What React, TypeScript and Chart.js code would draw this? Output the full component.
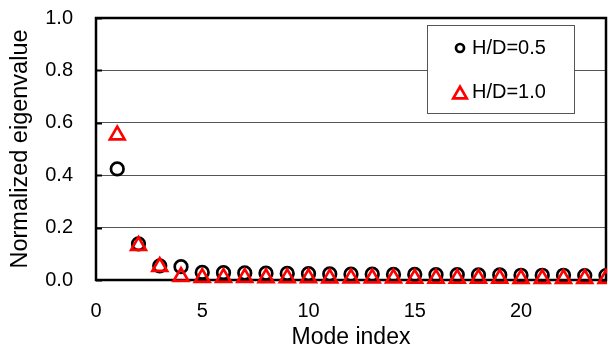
import React, { useEffect, useRef } from "react";
import { Chart, registerables } from "chart.js";

Chart.register(...registerables);

const modeIndex = [1, 2, 3, 4, 5, 6, 7, 8, 9, 10, 11, 12, 13, 14, 15, 16, 17, 18, 19, 20, 21, 22, 23, 24];
const hd05 = [0.424, 0.138, 0.054, 0.051, 0.029, 0.028, 0.027, 0.026, 0.025, 0.024, 0.023, 0.022, 0.022, 0.021, 0.021, 0.02, 0.02, 0.019, 0.019, 0.018, 0.018, 0.018, 0.017, 0.017];
const hd10 = [0.553, 0.131, 0.051, 0.013, 0.009, 0.009, 0.009, 0.008, 0.008, 0.008, 0.007, 0.007, 0.007, 0.007, 0.006, 0.006, 0.006, 0.006, 0.006, 0.005, 0.005, 0.005, 0.005, 0.005];
const seriesLabels = ["H/D=0.5", "H/D=1.0"];
const yTicks = [0, 0.2, 0.4, 0.6, 0.8, 1.0];
const xTicks = [0, 5, 10, 15, 20];

const FONT = "'Liberation Sans', Arial, sans-serif";

const framePlugin = {
  id: "frame",
  beforeDatasetsDraw(chart: any) {
    const { ctx, chartArea } = chart;
    const { left, right, top, bottom } = chartArea;
    ctx.save();
    const ys = chart.scales.y;
    ctx.strokeStyle = "#000";
    ctx.lineWidth = 2;
    yTicks.forEach((v) => {
      const py = Math.round(ys.getPixelForValue(v)) + 0.5;
      ctx.beginPath();
      ctx.moveTo(left, py);
      ctx.lineTo(left + 6, py);
      ctx.stroke();
    });
    ctx.lineWidth = 2.5;
    ctx.strokeStyle = "#000";
    ctx.strokeRect(left, top, right - left, bottom - top);
    ctx.restore();
  },
  afterDraw(chart: any) {
    const { ctx } = chart;
    ctx.save();
    const bx = 427, by = 25, bw = 147, bh = 88;
    ctx.fillStyle = "#fff";
    ctx.fillRect(bx, by, bw, bh);
    ctx.strokeStyle = "#555";
    ctx.lineWidth = 1;
    ctx.strokeRect(bx + 0.5, by + 0.5, bw, bh);
    const rows = [48, 92];
    chart.data.datasets.forEach((ds: any, i: number) => {
      const cy = rows[i];
      const cx = 460;
      ctx.strokeStyle = ds.borderColor;
      ctx.lineWidth = 2.7;
      ctx.beginPath();
      if (ds.pointStyle === "triangle") {
        const r = 7.8;
        const yc = cy + 2.5;
        ctx.moveTo(cx, yc - r);
        ctx.lineTo(cx + r * Math.sin((2 * Math.PI) / 3), yc + r / 2);
        ctx.lineTo(cx - r * Math.sin((2 * Math.PI) / 3), yc + r / 2);
        ctx.closePath();
      } else {
        ctx.arc(cx, cy, 4, 0, Math.PI * 2);
      }
      ctx.stroke();
      ctx.fillStyle = "#000";
      ctx.font = "20px " + FONT;
      ctx.textAlign = "left";
      ctx.textBaseline = "middle";
      ctx.fillText(ds.label, 472, cy);
    });
    ctx.restore();
  },
};

export default function App() {
  const ref = useRef<HTMLCanvasElement | null>(null);
  useEffect(() => {
    document.body.style.margin = "0";
    const canvas = ref.current;
    if (!canvas) return;
    const clip = { left: 20, top: 20, right: 1, bottom: 20 };
    const chart = new Chart(canvas, {
      type: "scatter",
      data: {
        datasets: [
          {
            label: seriesLabels[0],
            data: modeIndex.map((x, i) => ({ x, y: hd05[i] })),
            pointStyle: "circle",
            pointRadius: 6.3,
            pointBorderWidth: 2.7,
            borderColor: "#000",
            backgroundColor: "rgba(0,0,0,0)",
            showLine: false,
            clip,
            order: 1,
          },
          {
            label: seriesLabels[1],
            data: modeIndex.map((x, i) => ({ x, y: hd10[i] })),
            pointStyle: "triangle",
            pointRadius: 8.5,
            pointBorderWidth: 2.7,
            borderColor: "#ff0000",
            backgroundColor: "rgba(0,0,0,0)",
            showLine: false,
            clip,
            order: 0,
          },
        ],
      },
      options: {
        responsive: false,
        animation: false,
        layout: { autoPadding: false, padding: { top: 18, right: 2, left: 0, bottom: 0 } },
        plugins: { legend: { display: false }, tooltip: { enabled: false } },
        scales: {
          x: {
            type: "linear",
            min: 0,
            max: 24,
            afterFit: (s: any) => {
              s.height = 71;
              s.paddingLeft = 0;
              s.paddingRight = 0;
            },
            afterBuildTicks: (s: any) => {
              s.ticks = xTicks.map((v) => ({ value: v }));
            },
            grid: { display: false, drawTicks: false },
            border: { display: false },
            ticks: {
              padding: 19,
              color: "#000",
              font: { family: FONT, size: 20 },
              maxRotation: 0,
            },
            title: {
              display: true,
              text: "Mode index",
              color: "#000",
              font: { family: FONT, size: 23 },
              padding: { top: 0, bottom: 0 },
            },
          },
          y: {
            type: "linear",
            min: 0,
            max: 1,
            afterFit: (s: any) => {
              s.width = 96;
              s.paddingTop = 0;
              s.paddingBottom = 0;
            },
            afterBuildTicks: (s: any) => {
              s.ticks = yTicks.map((v) => ({ value: v }));
            },
            grid: { color: "#555", lineWidth: 1, drawTicks: false },
            border: { display: false },
            ticks: {
              padding: 23,
              color: "#000",
              font: { family: FONT, size: 20 },
              callback: (v: any) => Number(v).toFixed(1),
            },
            title: {
              display: true,
              text: "Normalized eigenvalue",
              color: "#000",
              font: { family: FONT, size: 23.5 },
              padding: { top: 6, bottom: 0 },
            },
          },
        },
      },
      plugins: [framePlugin],
    });
    return () => chart.destroy();
  }, []);
  return (
    <div style={{ width: 608, height: 351, background: "#fff" }}>
      <canvas ref={ref} width={608} height={351} style={{ display: "block" }} />
    </div>
  );
}
